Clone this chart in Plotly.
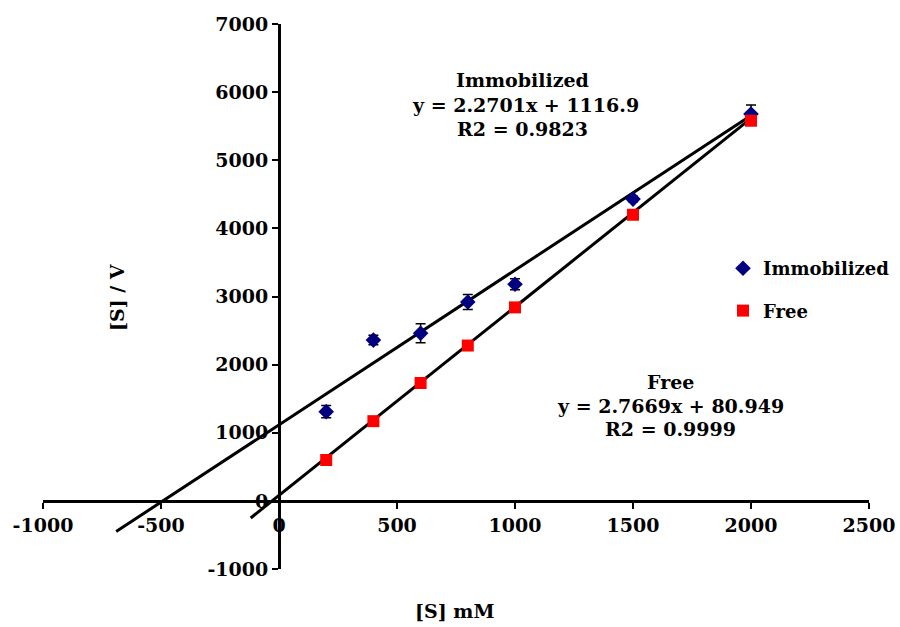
import plotly.graph_objects as go

# ---- data ----
substrate_mM = [200, 400, 600, 800, 1000, 1500, 2000]
immobilized_SV = [1310, 2360, 2460, 2920, 3180, 4430, 5680]
immobilized_err = [90, 70, 140, 110, 80, 40, 130]
free_SV = [600, 1170, 1730, 2280, 2840, 4200, 5580]

immob_slope, immob_intercept, immob_r2 = 2.2701, 1116.9, 0.9823
free_slope, free_intercept, free_r2 = 2.7669, 80.949, 0.9999
immob_trend_x = [-690, 2000]
free_trend_x = [-120, 2000]

x_ticks = [-1000, -500, 0, 500, 1000, 1500, 2000, 2500]
x_ticktext = ["-1000", "-500", "0", "500", "1000", "1500", "2000", "2500"]
y_ticks = [-1000, 0, 1000, 2000, 3000, 4000, 5000, 6000, 7000]
y_ticktext = ["-1000", "0", "1000", "2000", "3000", "4000", "5000", "6000", "7000"]

FONT = "DejaVu Serif"
x_range = [-1000, 2500]
y_range = [-1000, 7000]

fig = go.Figure()

fig.add_trace(go.Scatter(
    x=immob_trend_x, y=[immob_slope * v + immob_intercept for v in immob_trend_x],
    mode="lines", line=dict(color="black", width=3), showlegend=False, hoverinfo="skip"))
fig.add_trace(go.Scatter(
    x=free_trend_x, y=[free_slope * v + free_intercept for v in free_trend_x],
    mode="lines", line=dict(color="black", width=3), showlegend=False, hoverinfo="skip"))

fig.add_trace(go.Scatter(
    x=substrate_mM, y=immobilized_SV, mode="markers", name="Immobilized",
    legendgroup="a",
    marker=dict(symbol="diamond", color="#000080", size=12),
    error_y=dict(type="data", array=immobilized_err, color="black", thickness=1.5, width=5)))
fig.add_trace(go.Scatter(
    x=substrate_mM, y=free_SV, mode="markers", name="Free",
    legendgroup="b",
    marker=dict(symbol="square", color="#FF0000", size=12)))

tickfont = dict(family=FONT, size=19, color="black", weight="bold")
fig.update_xaxes(
    range=x_range, tickvals=x_ticks, ticktext=x_ticktext, showgrid=False, zeroline=False,
    showline=True, linecolor="black", linewidth=3, automargin=False,
    ticks="outside", ticklen=6, tickwidth=2, tickcolor="black",
    anchor="free", position=(0 - y_range[0]) / (y_range[1] - y_range[0]),
    tickfont=tickfont)
fig.update_yaxes(
    range=y_range, tickvals=y_ticks, ticktext=y_ticktext, showgrid=False, zeroline=False,
    showline=True, linecolor="black", linewidth=3, automargin=False,
    ticks="outside", ticklen=6, tickwidth=2, tickcolor="black",
    anchor="free", position=(0 - x_range[0]) / (x_range[1] - x_range[0]),
    tickfont=tickfont)

W, H = 900, 627
ML, MR, MT, MB = 43, 31, 24, 58
pw, ph = W - ML - MR, H - MT - MB


def px_x(px):
    return (px - ML) / pw


def px_y(py):
    return (H - MB - py) / ph


ann_font = dict(family=FONT, size=19, color="black", weight="bold")
anns = [
    ("Immobilized", 522, 80),
    (f"y = {immob_slope}x + {immob_intercept}", 525, 105),
    (f"R2 = {immob_r2}", 522, 129),
    ("Free", 670, 382),
    (f"y = {free_slope}x + {free_intercept}", 670, 406),
    (f"R2 = {free_r2}", 670, 429),
]
for txt, px, py in anns:
    fig.add_annotation(text=txt, xref="paper", yref="paper", x=px_x(px), y=px_y(py),
                       xanchor="center", yanchor="middle", showarrow=False, font=ann_font)

fig.add_annotation(text="[S] / V", xref="paper", yref="paper",
                   x=px_x(117), y=px_y(297), textangle=-90,
                   xanchor="center", yanchor="middle", showarrow=False, font=ann_font)
fig.add_annotation(text="[S] mM", xref="paper", yref="paper",
                   x=px_x(454), y=px_y(611),
                   xanchor="center", yanchor="middle", showarrow=False, font=ann_font)

fig.update_layout(
    width=W, height=H, margin=dict(l=ML, r=MR, t=MT, b=MB, autoexpand=False),
    paper_bgcolor="white", plot_bgcolor="white",
    showlegend=True,
    legend=dict(x=px_x(723), y=px_y(250), xanchor="left", yanchor="top",
                font=dict(family=FONT, size=18, color="black", weight="bold"),
                tracegroupgap=16, bgcolor="rgba(0,0,0,0)"),
)

fig.write_html(
    "out.html",
    config={"displayModeBar": False},
    post_script="document.body.style.margin='0';document.body.style.overflow='hidden';",
)
